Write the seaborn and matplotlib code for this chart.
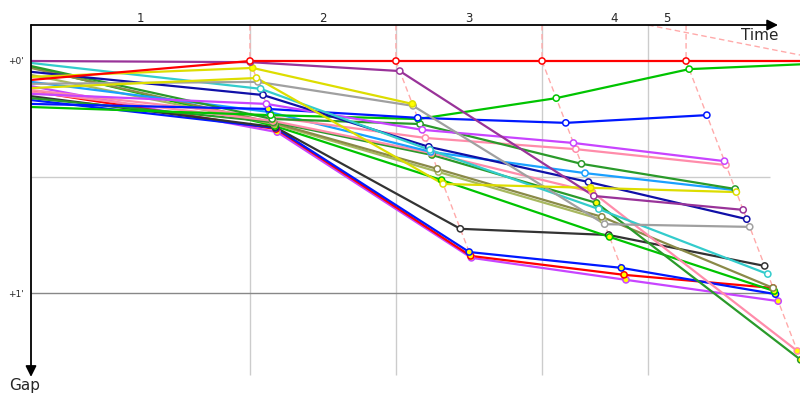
import matplotlib
matplotlib.use("Agg")
import numpy as np
import pandas as pd
import seaborn as sns
import matplotlib.pyplot as plt

# ---------------- data (seconds) ----------------
lap_labels = ["1", "2", "3", "4", "5"]
leader_times = [0.0, 147.6, 246.0, 344.5, 441.6, 540.0]   # leader crossing times per lap
grid_times = [147.6, 246.0, 344.5, 416.0]
label_bounds = [(0.0, 147.6), (147.6, 246.0), (246.0, 344.5), (344.5, 441.6), (416.0, 441.6)]

drivers = ["VIO2", "RED2", "BLU2", "BLK", "GRN2", "LOL", "OLV", "DGR2", "PNK2", "LBL",
           "PNK1", "DGR1", "GRN1", "BLU1", "VIO1", "NAV", "CYA", "GRY", "YEL2", "YEL1",
           "PUR", "RED1"]
colors = {"RED1": "#ff0000", "PUR": "#993399", "YEL1": "#dddd00", "YEL2": "#dddd00",
          "GRY": "#a0a0a0", "CYA": "#33cccc", "NAV": "#1010a8", "VIO1": "#c844ff",
          "BLU1": "#0018ff", "GRN1": "#00c400", "DGR1": "#2a9a2a", "PNK1": "#ff8caa",
          "LBL": "#1aa0ff", "PNK2": "#ff8caa", "DGR2": "#2a9a2a", "OLV": "#8a8a48",
          "LOL": "#a8b860", "GRN2": "#00c400", "BLK": "#333333", "BLU2": "#0018ff",
          "RED2": "#ff0000", "VIO2": "#c844ff"}
nan = np.nan
# gap to leader (s) at start, lap1 .. lap5
gap_start = {"RED1": 4.9, "PUR": 0.0, "YEL1": 4.1, "YEL2": 7.0, "GRY": 5.9, "CYA": 0.5,
             "NAV": 2.8, "VIO1": 8.5, "BLU1": 11.1, "GRN1": 11.9, "DGR1": 1.3, "PNK1": 7.5,
             "LBL": 5.4, "PNK2": 8.0, "DGR2": 9.6, "OLV": 1.8, "LOL": 3.6, "GRN2": 1.6,
             "BLK": 9.1, "BLU2": 10.1, "RED2": 7.8, "VIO2": 6.5}
gap_lap1 = {"RED1": 0.0, "PUR": 0.3, "YEL1": 1.8, "YEL2": 4.4, "GRY": 5.4, "CYA": 7.2,
            "NAV": 8.8, "VIO1": 11.1, "BLU1": 12.4, "LBL": 13.2, "GRN1": 14.0, "PNK1": 14.5,
            "DGR1": 15.0, "PNK2": 15.5, "DGR2": 15.8, "OLV": 16.0, "LOL": 16.3, "GRN2": 16.8,
            "BLK": 17.1, "BLU2": 17.3, "RED2": 17.6, "VIO2": 18.4}
gap_lap2 = {"RED1": 0.0, "PUR": 2.6, "YEL1": 11.1, "GRY": 11.6, "BLU1": 14.7, "GRN1": 15.0,
            "DGR1": 16.3, "VIO1": 17.8, "PNK1": 19.9, "NAV": 22.2, "CYA": 23.0, "LBL": 23.5,
            "PNK2": 23.8, "DGR2": 24.3, "OLV": 27.9, "LOL": 28.7, "GRN2": 30.8, "YEL2": 31.8,
            "BLK": 43.4, "BLU2": 49.4, "RED2": 50.4, "VIO2": 50.9}
gap_lap3 = {"RED1": 0.0, "GRN1": 9.6, "BLU1": 16.0, "VIO1": 21.2, "PNK1": 22.8, "DGR1": 26.6,
            "LBL": 29.0, "NAV": 31.3, "YEL2": 32.8, "PNK2": 33.9, "PUR": 34.9, "DGR2": 36.7,
            "CYA": 38.3, "OLV": 40.3, "LOL": 41.1, "GRY": 42.2, "BLK": 45.0, "GRN2": 45.5,
            "BLU2": 53.5, "RED2": 55.3, "VIO2": 56.6, "YEL1": nan}
gap_lap4 = {"RED1": 0.0, "GRN1": 2.1, "BLU1": 14.0, "VIO1": 25.9, "PNK1": 26.9, "DGR1": 33.1,
            "LBL": 33.4, "YEL2": 33.9, "PUR": 38.5, "NAV": 40.9, "GRY": 42.9, "BLK": 53.0,
            "CYA": 55.1, "OLV": 58.7, "RED2": 58.7, "GRN2": 59.5, "BLU2": 60.3, "VIO2": 62.1,
            "PNK2": 75.0, "DGR2": 77.3, "LOL": nan, "YEL1": nan}
gap_lap5 = {"RED1": 0.0, "GRN1": 0.5}
# laps whose marker is drawn filled yellow
yellow_marks = {"YEL1": [1, 2], "YEL2": [3], "BLU1": [1], "PNK2": [1, 2, 3, 4],
                "DGR2": [1, 2, 3, 4], "GRN2": [1, 2, 3, 4], "BLU2": [1, 2, 3, 4],
                "RED2": [1, 2, 3, 4], "VIO2": [1, 2, 3, 4]}
extra_dash = ([416.0, 518.4], [-9.3, -1.55])

# ---------------- build table ----------------
rows = []
all_gaps = [gap_start, gap_lap1, gap_lap2, gap_lap3, gap_lap4, gap_lap5]
for d in drivers:
    for k, gd in enumerate(all_gaps):
        g = gd.get(d, nan)
        if g is None or np.isnan(g):
            continue
        t = 0.0 if k == 0 else leader_times[k] + g
        rows.append({"driver": d, "lap": k, "gap": g, "time": t})
df = pd.DataFrame(rows)

# ---------------- figure ----------------
sns.set_theme(style="white")
plt.rcParams["font.family"] = ["DejaVu Sans"]
fig = plt.figure(figsize=(8, 4), dpi=100)
ax = fig.add_axes([31 / 800, 0, 769 / 800, 375 / 400])
XMAX, YTOP, YBOT = 518.4, -9.31, 87.67
ax.set_xlim(0, XMAX)
ax.set_ylim(YBOT, YTOP)
for s in ax.spines.values():
    s.set_visible(False)
ax.set_xticks([])
ax.set_yticks([0, 60])
ax.set_yticklabels(["+0'", "+1'"], fontsize=6.5)
ax.tick_params(axis="y", length=0, pad=5.5)

# grid
ax.vlines(grid_times, YTOP, 81.2, color="#cccccc", lw=1, zorder=0)
ax.hlines(30, 0, 498, color="#cccccc", lw=1, zorder=0)
ax.hlines(60, 0, 498, color="#888888", lw=1, zorder=0)

# isochrones
dash = (0, (4, 2.5))
for k in range(1, 5):
    gmax = df[df.lap == k].gap.max()
    T = leader_times[k]
    ax.plot([T, T, T + gmax], [YTOP, 0, gmax], color="#ffaaaa", ls=dash, lw=1, zorder=1)
ax.plot(extra_dash[0], extra_dash[1], color="#ffaaaa", ls=dash, lw=1, zorder=1, clip_on=True)

# lines
sns.lineplot(data=df, x="time", y="gap", hue="driver", hue_order=drivers,
             palette=colors, estimator=None, sort=True, legend=False, lw=1.6, ax=ax, zorder=2)
ax.set_xlabel("")
ax.set_ylabel("")

# markers
for d in drivers:
    sub = df[(df.driver == d) & (df.lap > 0)]
    faces = ["#ffff00" if lp in yellow_marks.get(d, []) else "white" for lp in sub.lap]
    ax.scatter(sub.time, sub.gap, s=20, facecolors=faces, edgecolors=colors[d],
               linewidths=1.1, zorder=3)

# axes arrows
ax.annotate("", xy=(503.6, YTOP), xytext=(0, YTOP), xycoords="data",
            arrowprops=dict(arrowstyle="-|>", color="black", lw=1.3, mutation_scale=16,
                            shrinkA=0, shrinkB=0), annotation_clip=False)
ax.annotate("", xy=(0, 81.7), xytext=(0, YTOP), xycoords="data",
            arrowprops=dict(arrowstyle="-|>", color="black", lw=1.3, mutation_scale=16,
                            shrinkA=0, shrinkB=0), annotation_clip=False)
ax.text(491.5, -6.7, "Time", fontsize=11, ha="center", va="center")
ax.text(-4, 83.8, "Gap", fontsize=11, ha="center", va="center", clip_on=False)
for lab, (a, b) in zip(lap_labels, label_bounds):
    ax.text((a + b) / 2, -11.1, lab, fontsize=8.5, ha="center", va="center", clip_on=False)

fig.savefig("out.png", dpi=100)
